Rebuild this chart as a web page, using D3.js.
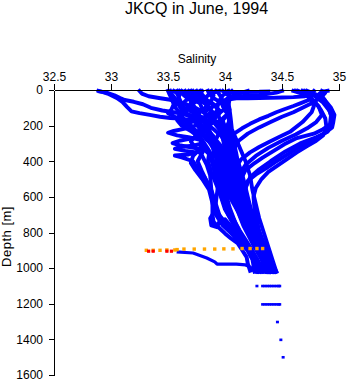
<!DOCTYPE html>
<html><head><meta charset="utf-8">
<script src="https://cdn.jsdelivr.net/npm/d3@7"></script>
<style>body{margin:0;background:#fff} svg{display:block} text{font-family:"Liberation Sans",Arial,sans-serif}</style>
</head><body><svg id="c" width="348" height="384"></svg>
<script>
const titleText = "JKCQ in June, 1994";
const xLabel = "Salinity";
const yLabel = "Depth [m]";
const xTicks = [32.5, 33, 33.5, 34, 34.5, 35];
const yTicks = [0, 200, 400, 600, 800, 1000, 1200, 1400, 1600];

// CTD profiles: [salinity, depth]
const profL1 = [[32.89,5],[32.93,12],[32.97,20],[33.05,45],[33.1,67],[33.14,95],[33.18,120],[33.25,130],[33.34,140],[33.43,150],[33.52,157],[33.6,160],[33.7,170],[33.78,190],[33.8,230],[33.78,270],[33.82,330],[33.76,400],[33.8,460],[33.86,540],[33.89,620],[33.89,700],[33.9,740],[33.95,775],[34.0,805],[34.05,832],[34.11,860],[34.15,898],[34.19,938],[34.2,975],[34.22,1015]];
const profL2 = [[32.9,8],[32.96,15],[33.03,30],[33.08,45],[33.12,56],[33.2,66],[33.28,80],[33.35,100],[33.45,115],[33.55,125],[33.65,135],[33.75,150],[33.82,180],[33.87,240],[33.92,330],[33.95,430],[33.94,530],[33.92,630],[33.9,690],[33.87,720],[33.88,760],[33.93,770],[33.95,740],[34.0,725],[34.06,770],[34.13,840],[34.21,905],[34.26,960],[34.28,1020]];
const profL3 = [[33.25,5],[33.27,20],[33.33,35],[33.42,45],[33.52,55],[33.6,68],[33.67,82],[33.72,100],[33.76,130],[33.8,170],[33.86,220],[33.9,290],[33.93,370],[33.97,460],[34.0,560],[34.04,660],[34.1,760],[34.2,880],[34.3,980],[34.32,1020]];
const profM1 = [[33.5,5],[33.51,20],[33.53,45],[33.55,80],[33.53,110],[33.5,130],[33.56,150],[33.64,170],[33.7,195],[33.66,215],[33.55,230],[33.5,240],[33.58,255],[33.68,265],[33.78,280],[33.8,300],[33.72,312],[33.6,320],[33.56,330],[33.65,342],[33.75,350],[33.68,362],[33.56,368],[33.62,378],[33.72,400],[33.76,440],[33.82,490],[33.88,560],[33.92,640],[33.96,720],[34.08,800],[34.18,880],[34.24,950],[34.26,1020]];
const profM2 = [[33.55,5],[33.58,20],[33.6,50],[33.63,90],[33.66,120],[33.62,150],[33.6,175],[33.66,200],[33.74,225],[33.8,250],[33.72,270],[33.6,285],[33.54,298],[33.6,310],[33.7,322],[33.82,335],[33.86,360],[33.85,400],[33.88,460],[33.93,540],[33.98,620],[34.03,700],[34.1,780],[34.2,870],[34.28,960],[34.33,1020]];
const profM3 = [[33.6,5],[33.62,18],[33.65,35],[33.7,60],[33.72,90],[33.7,115],[33.76,140],[33.82,165],[33.86,200],[33.84,240],[33.88,280],[33.94,330],[33.96,400],[34.0,480],[34.05,570],[34.1,660],[34.16,760],[34.24,860],[34.32,950],[34.36,1020]];
const profM4 = [[33.65,5],[33.67,25],[33.72,50],[33.78,75],[33.8,105],[33.76,135],[33.72,160],[33.78,190],[33.84,220],[33.9,260],[33.93,320],[33.98,400],[34.03,500],[34.08,600],[34.14,700],[34.22,800],[34.3,900],[34.38,980],[34.4,1020]];
const profM5 = [[33.72,5],[33.74,20],[33.78,40],[33.82,70],[33.86,100],[33.9,130],[33.88,160],[33.84,190],[33.9,220],[33.97,260],[34.02,320],[34.04,400],[34.08,500],[34.13,600],[34.2,720],[34.28,840],[34.36,940],[34.42,1020]];
const profM6 = [[33.78,5],[33.8,25],[33.84,55],[33.9,80],[33.94,110],[33.9,135],[33.86,150],[33.92,175],[34.0,200],[34.04,240],[34.02,290],[34.0,350],[34.05,440],[34.1,540],[34.17,650],[34.24,760],[34.32,870],[34.4,960],[34.44,1020]];
const profM7 = [[33.85,5],[33.86,20],[33.9,45],[33.96,70],[34.0,100],[34.03,130],[33.98,160],[33.94,185],[33.98,215],[34.03,260],[34.08,320],[34.1,400],[34.13,480],[34.16,560],[34.2,660],[34.27,780],[34.34,890],[34.4,980],[34.43,1020]];
const profM8 = [[33.92,5],[33.94,15],[33.96,35],[33.98,60],[34.02,85],[34.04,110],[34.02,140],[33.98,170],[34.0,210],[34.03,250],[34.06,300],[34.05,360],[34.08,430],[34.12,520],[34.18,620],[34.25,740],[34.33,860],[34.38,960],[34.41,1020]];
const profM9 = [[33.98,5],[34.0,15],[34.03,30],[34.04,55],[34.03,80],[34.0,105],[33.96,125],[33.92,150],[33.9,175],[33.93,200],[33.98,240],[34.0,290],[34.03,350],[34.07,420],[34.11,500],[34.15,590],[34.22,700],[34.3,820],[34.37,930],[34.4,1020]];
const profM10 = [[34.03,5],[34.04,20],[34.03,45],[33.98,65],[33.92,85],[33.86,105],[33.82,125],[33.85,150],[33.9,180],[33.95,220],[33.98,270],[34.0,330],[34.02,400],[34.06,480],[34.1,560],[34.15,650],[34.22,760],[34.3,880],[34.36,970],[34.38,1020]];
const profF1 = [[33.58,5],[33.6,30],[33.58,70],[33.62,110],[33.6,140],[33.65,170],[33.7,210],[33.75,250],[33.7,290],[33.75,330],[33.8,370],[33.84,420],[33.87,480],[33.88,560],[33.9,640],[33.92,700],[33.98,760],[34.08,820],[34.2,900],[34.27,980],[34.3,1020]];
const profF2 = [[33.68,5],[33.7,20],[33.68,45],[33.64,70],[33.62,100],[33.66,130],[33.72,150],[33.68,180],[33.66,200],[33.72,230],[33.78,260],[33.82,300],[33.86,340],[33.9,400],[33.94,480],[33.97,560],[34.02,640],[34.07,720],[34.13,790],[34.22,880],[34.3,970],[34.34,1020]];
const profF3 = [[33.8,5],[33.78,20],[33.74,40],[33.7,70],[33.74,100],[33.8,120],[33.84,140],[33.8,170],[33.76,200],[33.8,240],[33.85,280],[33.9,330],[33.92,380],[33.95,450],[34.0,530],[34.05,610],[34.12,690],[34.18,770],[34.26,860],[34.34,950],[34.38,1020]];
const profF4 = [[33.88,5],[33.9,30],[33.88,60],[33.84,90],[33.8,115],[33.76,135],[33.72,155],[33.74,180],[33.8,210],[33.86,240],[33.9,280],[33.95,330],[34.0,390],[34.04,460],[34.08,540],[34.12,620],[34.16,700],[34.22,800],[34.3,900],[34.36,980],[34.39,1020]];
const profF5 = [[34.06,5],[34.08,20],[34.06,40],[34.02,65],[33.98,90],[34.0,115],[34.03,140],[34.04,170],[34.02,200],[34.0,240],[34.02,280],[34.04,330],[34.06,390],[34.08,450],[34.12,540],[34.18,650],[34.24,760],[34.3,860],[34.35,960],[34.36,1020]];
const profF6 = [[33.7,5],[33.72,30],[33.75,60],[33.7,90],[33.65,115],[33.6,140],[33.58,170],[33.62,200],[33.7,230],[33.76,260],[33.8,290],[33.78,330],[33.72,370],[33.7,410],[33.74,450],[33.8,500],[33.86,560],[33.88,610],[33.9,660],[33.96,710],[34.06,790],[34.2,880],[34.28,950],[34.3,1020]];
const profF7 = [[34.2,5],[34.15,15],[34.1,25],[34.05,40],[34.03,70],[34.04,110],[34.05,160],[34.06,220],[34.1,280],[34.14,340],[34.18,400],[34.22,480],[34.24,560],[34.27,640],[34.3,720],[34.34,800],[34.38,880],[34.42,960],[34.45,1020]];
const profF8 = [[33.62,5],[33.64,15],[33.68,30],[33.75,50],[33.8,65],[33.85,90],[33.88,120],[33.84,145],[33.78,165],[33.7,180],[33.66,195],[33.7,215],[33.78,240],[33.86,270],[33.92,310],[33.96,360],[34.0,420],[34.04,500],[34.08,580],[34.14,680],[34.2,780],[34.28,880],[34.34,970],[34.37,1020]];
const profG1 = [[33.52,5],[33.54,30],[33.58,60],[33.56,95],[33.6,125],[33.68,145],[33.74,160],[33.8,175],[33.76,195],[33.7,210],[33.74,230],[33.82,255],[33.88,290],[33.9,340],[33.88,390],[33.9,440],[33.93,510],[33.96,590],[34.0,670],[34.08,760],[34.18,860],[34.26,950],[34.29,1020]];
const profG2 = [[33.75,5],[33.76,15],[33.8,35],[33.76,60],[33.7,80],[33.66,100],[33.7,120],[33.76,140],[33.82,160],[33.88,190],[33.84,220],[33.8,250],[33.84,280],[33.9,310],[33.96,350],[34.0,400],[34.03,460],[34.06,540],[34.1,620],[34.16,720],[34.24,830],[34.32,930],[34.38,1020]];
const profG3 = [[33.95,5],[33.9,15],[33.85,30],[33.82,50],[33.86,70],[33.92,95],[33.96,120],[33.92,140],[33.88,160],[33.92,190],[33.96,220],[33.94,250],[33.92,280],[33.96,310],[34.0,360],[34.04,430],[34.08,510],[34.12,600],[34.18,700],[34.26,820],[34.34,930],[34.39,1020]];
const profH1 = [[34.38,8],[34.3,10],[34.2,11],[34.1,12],[34.02,15],[33.98,30],[33.95,60],[33.93,100],[33.95,160],[34.0,230],[34.05,300],[34.08,380],[34.12,460],[34.15,540],[34.2,640],[34.27,750],[34.34,860],[34.4,960],[34.42,1020]];
const profE1 = [[34.78,5],[34.76,20],[34.7,35],[34.6,40],[34.5,42],[34.4,44],[34.3,45],[34.2,46],[34.1,47],[34.04,52],[34.02,70],[34.02,100],[34.03,150],[34.04,200],[34.06,260],[34.08,320],[34.1,380],[34.14,450],[34.17,520],[34.2,600],[34.24,700],[34.3,810],[34.36,920],[34.41,1020]];
const profR0 = [[34.5,5],[34.45,15],[34.38,22],[34.3,28],[34.2,32],[34.1,36],[34.04,45],[34.02,80],[34.03,130],[34.04,180],[34.06,240],[34.08,300],[34.1,360],[34.12,430],[34.15,510],[34.19,600],[34.24,710],[34.3,820],[34.36,930],[34.39,1020]];
const profR1 = [[34.68,5],[34.73,18],[34.76,40],[34.74,55],[34.66,75],[34.6,90],[34.52,108],[34.45,125],[34.38,145],[34.3,165],[34.22,190],[34.15,215],[34.08,245],[34.03,275],[33.99,320],[33.97,380],[33.96,450],[33.97,520],[33.99,590],[34.03,670],[34.09,750],[34.17,850],[34.25,950],[34.29,1020]];
const profR7 = [[34.85,5],[34.88,15],[34.86,30],[34.82,50],[34.76,75],[34.68,100],[34.6,125],[34.5,150],[34.4,180],[34.3,210],[34.2,245],[34.12,285],[34.08,330],[34.08,390],[34.11,460],[34.14,540],[34.19,640],[34.25,750],[34.32,860],[34.38,960],[34.4,1020]];
const profR2 = [[34.64,5],[34.7,20],[34.75,50],[34.78,90],[34.76,125],[34.68,180],[34.57,235],[34.47,265],[34.39,290],[34.3,320],[34.22,350],[34.14,390],[34.1,430],[34.08,480],[34.1,560],[34.14,650],[34.2,750],[34.28,870],[34.35,970],[34.37,1020]];
const profR8 = [[34.6,5],[34.68,20],[34.75,45],[34.82,90],[34.85,140],[34.8,180],[34.72,215],[34.62,250],[34.5,285],[34.38,325],[34.27,370],[34.18,420],[34.13,470],[34.13,540],[34.16,620],[34.21,720],[34.28,830],[34.35,930],[34.42,1020]];
const profR3 = [[34.9,5],[34.86,10],[34.83,20],[34.87,50],[34.9,90],[34.93,140],[34.92,195],[34.86,220],[34.78,245],[34.63,270],[34.52,305],[34.42,345],[34.33,380],[34.26,410],[34.18,450],[34.14,500],[34.14,570],[34.18,660],[34.24,760],[34.31,870],[34.38,970],[34.41,1020]];
const profR6 = [[34.7,5],[34.78,30],[34.86,70],[34.92,120],[34.94,170],[34.9,235],[34.8,265],[34.66,300],[34.53,345],[34.4,400],[34.3,445],[34.22,490],[34.18,550],[34.19,640],[34.24,740],[34.3,850],[34.36,950],[34.4,1020]];
const profR4 = [[34.72,5],[34.8,25],[34.88,60],[34.93,100],[34.96,140],[34.95,180],[34.94,210],[34.86,250],[34.75,290],[34.64,325],[34.54,365],[34.44,405],[34.36,440],[34.28,470],[34.2,510],[34.17,570],[34.19,660],[34.25,770],[34.33,890],[34.4,980],[34.43,1020]];
const profR5 = [[34.62,5],[34.7,25],[34.78,60],[34.84,110],[34.88,160],[34.89,210],[34.86,255],[34.8,285],[34.72,315],[34.63,350],[34.55,385],[34.46,425],[34.38,460],[34.32,500],[34.27,550],[34.25,600],[34.26,680],[34.3,790],[34.36,900],[34.42,980],[34.45,1020]];
const profHook = [[34.25,1015],[34.22,993],[34.18,982],[34.1,978],[34.04,977],[33.93,977],[33.91,965],[33.84,943],[33.72,915],[33.59,909]];

const profiles = [profL1, profL2, profL3, profM1, profM2, profM3, profM4, profM5, profM6, profM7, profM8, profM9, profM10,
  profF1, profF2, profF3, profF4, profF5, profF6, profF7, profF8, profG1, profG2, profG3,
  profH1, profE1, profR0, profR1, profR7, profR2, profR8, profR3, profR6, profR4, profR5, profHook];

// deep single samples
const deepSal   = [34.28,34.33,34.35,34.37,34.39,34.41,34.43,34.45,34.47,34.48, 34.33,34.35,34.37,34.39,34.41,34.43,34.45,34.47,34.48, 34.46, 34.49, 34.51];
const deepDepth = [1100,1100,1100,1100,1100,1100,1100,1100,1100,1100, 1203,1203,1203,1203,1203,1203,1203,1203,1203, 1302, 1402, 1500];

// orange dotted marker line and red points
const orangeSal   = [33.31,33.37,33.43,33.49,33.56,33.58,33.64,33.73,33.82,33.91,33.99,34.07,34.15,34.22,34.28,34.33];
const orangeDepth = [900,900,900,898,898,896,893,893,893,893,892,892,890,890,890,890];
const redSal   = [33.33,33.37,33.49,33.53];
const redDepth = [905,905,905,905];

const svg = d3.select("#c");
const x = d3.scaleLinear().domain([32.5, 35]).range([54, 339]);
const y = d3.scaleLinear().domain([0, 1600]).range([90, 375]);

const line = d3.line().x(d => x(d[0])).y(d => y(d[1]));
svg.append("g").selectAll("path").data(profiles).join("path")
  .attr("d", line).attr("fill", "none").attr("stroke", "#0000ff")
  .attr("stroke-width", d => d === profHook ? 3.2 : 3.9).attr("stroke-linejoin", "round").attr("stroke-linecap", "square");

svg.append("g").selectAll("rect").data(deepSal.map((s, i) => [s, deepDepth[i]])).join("rect")
  .attr("x", d => x(d[0]) - 1.5).attr("y", d => y(d[1]) - 1.2).attr("width", 3).attr("height", 2.6).attr("fill", "#0000ff");

svg.append("g").selectAll("rect").data(orangeSal.map((s, i) => [s, orangeDepth[i]])).join("rect")
  .attr("x", d => x(d[0]) - 1.7).attr("y", d => y(d[1]) - 1.7).attr("width", 3.4).attr("height", 3.4).attr("fill", "#ffa500");

svg.append("g").selectAll("rect").data(redSal.map((s, i) => [s, redDepth[i]])).join("rect")
  .attr("x", d => x(d[0]) - 1.6).attr("y", d => y(d[1]) - 1.6).attr("width", 3.2).attr("height", 3.2).attr("fill", "#ff0000");

const gx = svg.append("g").attr("transform", "translate(0,90)")
  .call(d3.axisTop(x).tickValues(xTicks).tickSize(6).tickSizeOuter(0).tickPadding(3).tickFormat(d3.format("")));
const gy = svg.append("g").attr("transform", "translate(54,0)")
  .call(d3.axisLeft(y).tickValues(yTicks).tickSize(5).tickSizeOuter(0).tickPadding(6).tickFormat(d3.format("")));
[gx, gy].forEach(g => {
  g.attr("font-family", "Liberation Sans, Arial, sans-serif").attr("font-size", 12);
  g.selectAll("path,line").attr("stroke", "#000").attr("shape-rendering", "crispEdges");
  g.selectAll("text").attr("fill", "#000");
});

svg.append("text").attr("x", 196.5).attr("y", 14).attr("text-anchor", "middle")
  .attr("font-size", 16).text(titleText);
svg.append("text").attr("x", 197).attr("y", 63).attr("text-anchor", "middle")
  .attr("font-size", 12).text(xLabel);
svg.append("text").attr("transform", "translate(11,236.5) rotate(-90)").attr("text-anchor", "middle")
  .attr("font-size", 13).attr("letter-spacing", 0.5).text(yLabel);
</script></body></html>
